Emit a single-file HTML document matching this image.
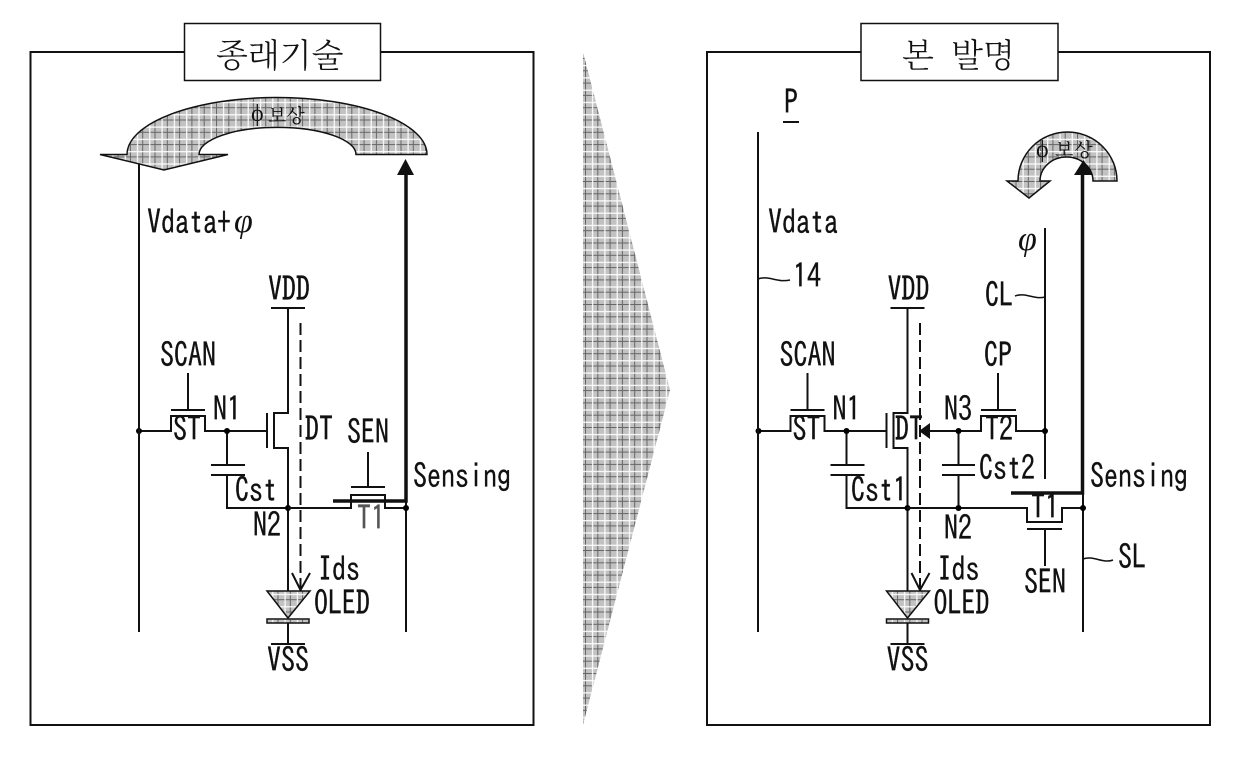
<!DOCTYPE html>
<html><head><meta charset="utf-8">
<style>
html,body{margin:0;padding:0;background:#fff;width:1240px;height:757px;overflow:hidden}
svg{display:block}
text{font-family:"IPAGothic","Liberation Mono",monospace;font-size:28px;fill:#111;stroke:#111;stroke-width:.25px}
text.k{font-family:"Liberation Serif","Noto Serif CJK KR","Noto Serif CJK SC",serif;stroke:none}
.w{fill:none;stroke:#111;stroke-width:2}
.t{fill:none;stroke:#111;stroke-width:3.5}
.f{fill:url(#g);stroke:#111;stroke-width:1.5}
</style></head><body>
<svg width="1240" height="757" viewBox="0 0 1240 757" xmlns="http://www.w3.org/2000/svg">
<defs>
<pattern id="g" patternUnits="userSpaceOnUse" width="12.3" height="12.3" x="585" y="58">
<rect width="12.3" height="12.3" fill="#c2c2c2"/>
<rect x="0" y="0" width="1" height="12.3" fill="#666"/>
<rect x="0" y="0" width="12.3" height="1" fill="#666"/>
<rect x="7" y="0" width="1.2" height="12.3" fill="#fff"/>
<rect x="0" y="7" width="12.3" height="1.2" fill="#fff"/>
</pattern>
<g id="c">
<path class="w" d="M139 431H171V416H205V431H267"/>
<path class="w" d="M171 410H205M188 373V410"/>
<path class="w" d="M267 413V448"/>
<path class="w" d="M271 308H305"/>
<path class="w" d="M288 308V413H274V448H288V591"/>
<path class="w" d="M227 431V465M211 465H245M211 475H245M227 475V508H288"/>
<path d="M300.500 323V588" fill="none" stroke="#111" stroke-width="2" stroke-dasharray="12 5"/>
<path class="w" d="M292 573L300.500 590L310 573"/>
<path class="f" d="M267 591H310L288 618Z"/>
<rect x="267" y="619" width="42" height="4" class="f"/>
<path class="w" d="M288 623V644M271 644H305"/>
<circle cx="139" cy="431" r="3"/><circle cx="227" cy="431" r="3"/><circle cx="288" cy="508" r="3"/>
<g transform="scale(1 1.2)">
<text x="268" y="250.83">VDD</text>
<text x="160" y="305.83">SCAN</text>
<text x="213" y="350.83">N1</text>
<text x="173" y="367.5">ST</text>
<text x="267" y="560">VSS</text>
<text x="314" y="512.5">OLED</text>
<text x="318" y="484.17">Ids</text>
</g>
</g>
</defs>

<rect x="30.500" y="52" width="503" height="673" fill="#fff" stroke="#111" stroke-width="2"/>
<rect x="707" y="52" width="503" height="673" fill="#fff" stroke="#111" stroke-width="2"/>
<rect x="184.500" y="23.500" width="196" height="57" fill="#fff" stroke="#111" stroke-width="1.500"/>
<rect x="861" y="23.500" width="197" height="57" fill="#fff" stroke="#111" stroke-width="1.500"/>
<text class="k" x="216" y="67" style="font-size:33px;font-weight:300">종래기술</text>
<text class="k" x="902" y="67" style="font-size:33px;font-weight:300;word-spacing:9px">본 발명</text>

<path d="M583 52L670 390L583 725Z" fill="url(#g)"/>

<!-- left -->
<path class="f" d="M127 154.500A150 57 0 0 1 427 154.500H356A78 27 0 0 0 199 154.500H228L164 170L100 154.500H127Z"/>
<text class="k" x="251" y="121" style="font-size:24px">ϕ</text>
<text class="k" x="268" y="122" style="font-size:19px">보상</text>
<use href="#c"/>
<path class="w" d="M139 164V632"/>
<path class="w" d="M288 508H351V495H385V508H406M351 487H385M368 452V487M406 501V632"/>
<path class="t" d="M333 501H406V170"/>
<path d="M397 175L405.500 159L414 175Z" fill="#111"/>
<circle cx="406" cy="508" r="3"/>
<text class="k" x="234" y="232" style="font-style:italic;font-size:34px">φ</text>
<g transform="scale(1 1.2)">
<text x="147" y="195">Vdata+</text>
<text x="305" y="367.5">DT</text>
<text x="347" y="370">SEN</text>
<text x="413" y="406.67">Sensing</text>
<text x="235" y="418.33">Cst</text>
<text x="357" y="441.67" style="fill:#555;stroke:#555">T1</text>
<text x="253" y="447.5">N2</text>
</g>

<!-- right -->
<path class="f" d="M1018 181A49.500 49 0 0 1 1117 181H1093A26.500 24 0 0 0 1040 181H1050L1029 198L1007 181Z"/>
<text class="k" x="1036" y="157" style="font-size:24px">ϕ</text>
<text class="k" x="1055" y="156" style="font-size:19px;letter-spacing:1px">보상</text>
<g transform="translate(619.500 0)"><use href="#c"/></g>
<path class="w" d="M758 132V632"/>
<path class="w" d="M920 431H981V416H1016V431H1045M981 410H1016M998 373V410"/>
<path class="w" d="M1045 228V479"/>
<path d="M919 431L930 423V439Z" fill="#111"/>
<path class="w" d="M958.500 431V465M942 465H975M942 475H975M958.500 475V508"/>
<path class="w" d="M907 508H1027V522H1062V508H1083M1027 529H1062M1045 529V566M1083 493V632"/>
<path class="t" d="M1011 493H1082.500V172"/>
<path d="M1074 175L1083.500 160L1093 175Z" fill="#111"/>
<circle cx="958.500" cy="431" r="3"/><circle cx="958.500" cy="508" r="3"/><circle cx="1045" cy="431" r="3"/><circle cx="1083" cy="508" r="3"/>
<path d="M758 279C768 275 778 283 790 280M1015 296C1025 292 1035 300 1045 297M1083 559C1093 555 1103 564 1113 560" fill="none" stroke="#111" stroke-width="1.500"/>
<path d="M783 122H799" class="w"/>
<text class="k" x="1018" y="250" style="font-style:italic;font-size:34px">φ</text>
<g transform="scale(1 1.2)">
<text x="784" y="95">P</text>
<text x="768" y="195">Vdata</text>
<text x="793" y="240">14</text>
<text x="985" y="255.83">CL</text>
<text x="984" y="305.83">CP</text>
<text x="944" y="350.83">N3</text>
<text x="985" y="367.5">T2</text>
<text x="895" y="367.5">DT</text>
<text x="979" y="400">Cst2</text>
<text x="851" y="418.33">Cst1</text>
<text x="944" y="450">N2</text>
<text x="1031" y="432.5">T1</text>
<text x="1090" y="406.67">Sensing</text>
<text x="1024" y="495">SEN</text>
<text x="1118" y="474.17">SL</text>
</g>
</svg>
</body></html>
